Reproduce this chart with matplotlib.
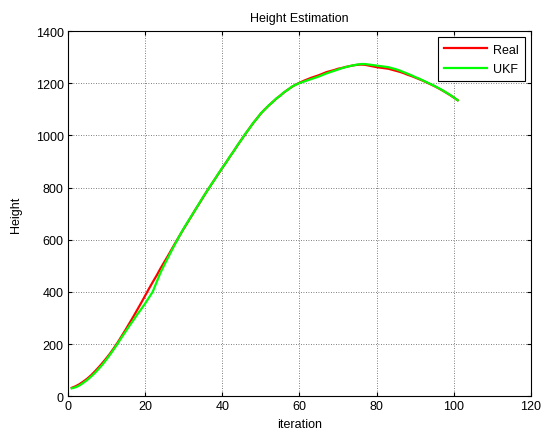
"""Height estimation plot: true height vs UKF estimate per iteration."""

import numpy as np
import matplotlib
matplotlib.use("Agg")
import matplotlib.pyplot as plt

plt.rcParams["font.family"] = ["Liberation Sans", "DejaVu Sans"]

iteration = np.arange(1, 102)

real_height = [
    32, 38, 46, 56, 67, 80, 95, 111, 128, 146,
    165, 186, 208, 232, 256, 281, 306, 332, 358, 385,
    412, 438, 463, 490, 515, 540, 566, 592, 617, 642,
    666, 690, 715, 738, 762, 786, 808, 831, 853, 875,
    897, 919, 941, 963, 985, 1006, 1027, 1047, 1066, 1084,
    1100, 1114, 1128, 1141, 1153, 1165, 1176, 1186, 1195, 1202,
    1209, 1215, 1221, 1226, 1231, 1237, 1243, 1247, 1251, 1256,
    1259, 1263, 1266, 1269, 1271, 1272, 1271, 1268, 1265, 1262,
    1260, 1258, 1256, 1252, 1248, 1244, 1239, 1233, 1228, 1222,
    1216, 1210, 1203, 1196, 1189, 1181, 1173, 1164, 1155, 1145,
    1135,
]

ukf_height = [
    30, 34, 41, 51, 62, 75, 89, 105, 122, 141,
    161, 182, 204, 227, 249, 271, 292, 314, 334, 355,
    378, 401, 438, 474, 504, 533, 562, 590, 617, 643,
    667, 691, 714, 739, 763, 785, 809, 830, 854, 876,
    896, 920, 940, 964, 984, 1007, 1026, 1048, 1065, 1085,
    1099, 1115, 1127, 1142, 1152, 1166, 1175, 1187, 1194, 1201,
    1206, 1211, 1216, 1221, 1226, 1232, 1238, 1243, 1248, 1253,
    1258, 1262, 1266, 1269, 1272, 1274, 1274, 1272, 1270, 1268,
    1266, 1264, 1262, 1258, 1254, 1249, 1243, 1237, 1231, 1224,
    1218, 1211, 1204, 1197, 1190, 1182, 1174, 1165, 1156, 1146,
    1135,
]

fig = plt.figure(figsize=(5.43, 4.35), dpi=100)
ax = fig.add_axes([0.125, 0.087, 0.853, 0.839])

ax.plot(iteration, real_height, color="#ff0000", linewidth=1.6, label="Real")
ax.plot(iteration, ukf_height, color="#00ff00", linewidth=1.6, label="UKF")

ax.set_xlim(0, 120)
ax.set_ylim(0, 1400)
ax.set_xticks(np.arange(0, 121, 20))
ax.set_yticks(np.arange(0, 1401, 200))
ax.tick_params(direction="in", length=3, labelsize=9, top=True, right=True,
               width=0.8, pad=3)
ax.grid(True, color="#555555", linestyle=(0, (1, 2)), linewidth=0.6)
for spine in ax.spines.values():
    spine.set_linewidth(0.8)

ax.set_title("Height Estimation", fontsize=9, pad=7)
ax.set_xlabel("iteration", fontsize=9, labelpad=4)
ax.set_ylabel("Height", fontsize=9, labelpad=10)

leg = ax.legend(loc="upper right", fontsize=9, handlelength=3.4,
                handletextpad=0.5, labelspacing=0.6, borderpad=0.5,
                borderaxespad=0.5, frameon=True, fancybox=False,
                edgecolor="black", framealpha=1)
leg.get_frame().set_linewidth(0.8)

fig.savefig("out.png", dpi=100)
plt.close(fig)
